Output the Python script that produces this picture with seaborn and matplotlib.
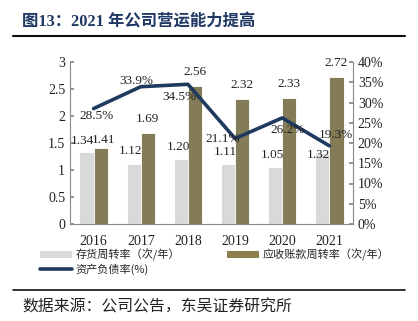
import numpy as np
import pandas as pd
import matplotlib
matplotlib.use("Agg")
import matplotlib.pyplot as plt
import seaborn as sns
from matplotlib.lines import Line2D
from matplotlib.patches import Patch

years = ["2016", "2017", "2018", "2019", "2020", "2021"]
inventory_turnover = [1.34, 1.12, 1.20, 1.11, 1.05, 1.32]
receivable_turnover = [1.41, 1.69, 2.56, 2.32, 2.33, 2.72]
debt_ratio = [28.5, 33.9, 34.5, 21.1, 26.2, 19.3]
series_names = ["存货周转率（次/年）", "应收账款周转率（次/年）", "资产负债率(%)"]
title_text = "图13：2021 年公司营运能力提高"
source_text = "数据来源：公司公告，东吴证券研究所"

sns.set_theme(style="white")
plt.rcParams['font.family'] = ['Liberation Serif', 'Noto Sans CJK SC', 'DejaVu Sans']

gray = "#d9d9d9"
olive = "#8c7f4f"
navy = "#1f3a5f"
axis_col = "#888888"
txt = "#222222"

df = pd.DataFrame({
    "year": years * 2,
    "value": inventory_turnover + receivable_turnover,
    "series": [series_names[0]] * len(years) + [series_names[1]] * len(years),
})

fig = plt.figure(figsize=(4.18, 3.21), dpi=100)
ax = fig.add_axes([70/418, 1-224/321, 283/418, 162/321])

sns.barplot(data=df, x="year", y="value", hue="series", palette=[gray, olive],
            width=0.6, ax=ax, legend=False, edgecolor="white", linewidth=0.6)
ax.set_ylim(0, 3)
ax.set_xlim(-0.5, len(years) - 0.5)
ax.set_yticks(np.arange(0, 3.01, 0.5))
ax.set_yticklabels(["0", "0.5", "1", "1.5", "2", "2.5", "3"])
ax.set_xlabel("")
ax.set_ylabel("")
ax.tick_params(axis="both", labelsize=10, colors=txt, length=3, direction="in")
ax.tick_params(axis="y", color=axis_col)
ax.tick_params(axis="x", length=0, pad=8)
ax.set_xticks(np.arange(len(years)))
ax.set_xticks(np.arange(len(years) - 1) + 0.5, minor=True)
ax.tick_params(axis="x", which="minor", length=3, direction="in", color=axis_col)
for s in ["top", "right"]:
    ax.spines[s].set_visible(False)
for s in ["left", "bottom"]:
    ax.spines[s].set_color(axis_col)
    ax.spines[s].set_linewidth(0.8)

# bar labels
lab_fs = 9.5
containers = ax.containers
gray_offsets = [(-3, 8), (-2, 9), (-2, 9), (-2, 9), (-2, 9), (-3, -2)]
for bar, v, off in zip(containers[0].patches, inventory_turnover, gray_offsets):
    ax.annotate(f"{v:.2f}", (bar.get_x() + bar.get_width() / 2, bar.get_height()),
                xytext=off, textcoords="offset points", ha="center", va="center",
                fontsize=lab_fs, color=txt)
olive_offsets = [(2, 6), (0, 10), (0, 10), (0, 10), (0, 10), (0, 10)]
for bar, v, off in zip(containers[1].patches, receivable_turnover, olive_offsets):
    ax.annotate(f"{v:.2f}", (bar.get_x() + bar.get_width() / 2, bar.get_height()),
                xytext=off, textcoords="offset points", ha="center", va="center",
                fontsize=lab_fs, color=txt)

ax2 = ax.twinx()
sns.lineplot(x=np.arange(len(years)), y=debt_ratio, ax=ax2, color=navy, linewidth=2.6)
ax2.set_ylim(0, 40)
ax2.set_xlim(-0.5, len(years) - 0.5)
ax2.set_yticks(np.arange(0, 40.1, 5))
ax2.set_yticklabels([f"{int(v)}%" for v in np.arange(0, 40.1, 5)])
ax2.tick_params(axis="y", labelsize=10, colors=txt, length=3, direction="in", color=axis_col)
for s in ["top", "left", "bottom"]:
    ax2.spines[s].set_visible(False)
ax2.spines["right"].set_color(axis_col)
ax2.spines["right"].set_linewidth(0.8)

offsets = [(2, -5), (-3, 4), (-6, -9), (-9, 0), (4, -9), (5, 8)]
for i, (v, off) in enumerate(zip(debt_ratio, offsets)):
    ax2.annotate(f"{v}%", (i, v), xytext=off, textcoords="offset points",
                 ha="center", va="center", fontsize=lab_fs, color=txt)

# legend (row-major order: gray, olive / navy)
handles = [Patch(facecolor=gray, edgecolor="none"),
           Line2D([0], [0], color=navy, linewidth=2.6),
           Patch(facecolor=olive, edgecolor="none")]
labels = [series_names[0], series_names[2], series_names[1]]
leg = fig.legend(handles, labels, loc="upper left", bbox_to_anchor=(40/418, 1-249/321),
                 ncol=2, frameon=False, handlelength=2.9, handleheight=0.55,
                 columnspacing=4.2, labelspacing=0.2, handletextpad=0.3, borderpad=0,
                 borderaxespad=0,
                 prop={'family': ['Noto Sans CJK SC', 'DejaVu Sans'], 'size': 8})

# title, rules and source
fig.text(22/418, 1-22/321, title_text, fontsize=11.8, fontweight="bold", color="#1f3864",
         va="center", ha="left", family=['Liberation Serif', 'Noto Sans CJK SC'])
fig.add_artist(Line2D([13/418, 405/418], [1-36/321, 1-36/321], color="#111111", linewidth=1.5))
fig.add_artist(Line2D([13/418, 405/418], [1-290/321, 1-290/321], color="#111111", linewidth=1.2))
fig.text(22/418, 1-307/321, source_text, fontsize=11.4, color=txt, va="center", ha="left",
         family=['Noto Sans CJK SC', 'DejaVu Sans'])

fig.savefig("out.png", dpi=100)
